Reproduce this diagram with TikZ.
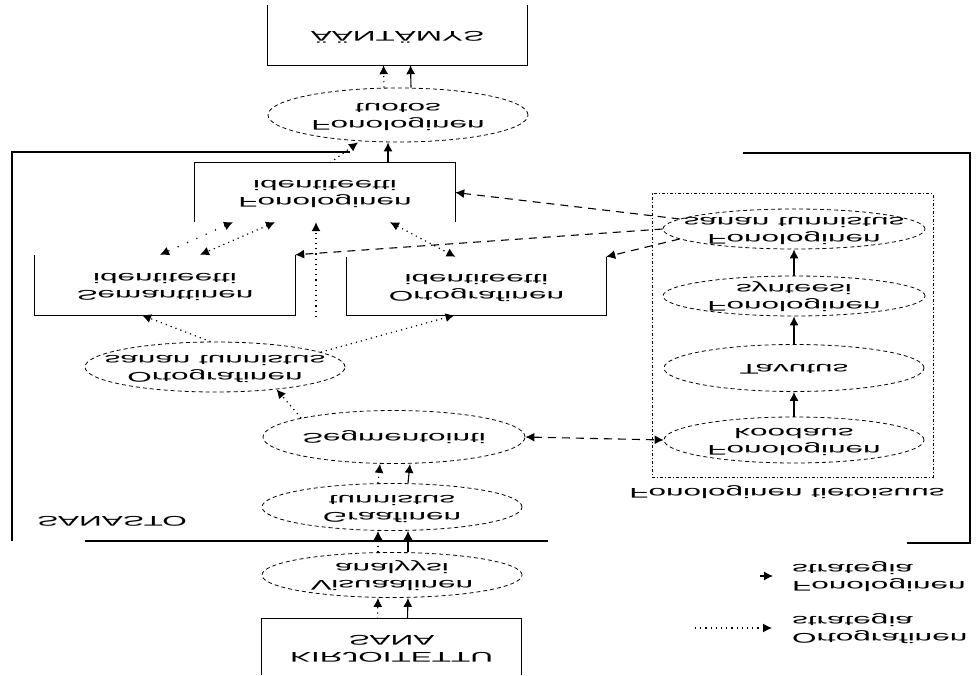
\documentclass[tikz,border=0pt]{standalone}
\usepackage{fontspec}
\setmainfont{Liberation Sans}[FakeStretch=2.25]
\usepackage{graphicx}
\usetikzlibrary{arrows.meta,shapes.geometric}

\newsavebox\txtbox
\newcommand{\flipt}[1]{\sbox\txtbox{\scalebox{1}[-1]{\begin{tabular}{@{}c@{}}#1\end{tabular}}}%
	\makebox[0pt]{\raisebox{\dimexpr(\dp\txtbox-\ht\txtbox)/2\relax}[0pt][0pt]{\usebox\txtbox}}}
\newcommand{\flipl}[1]{\scalebox{1}[-1]{\begin{tabular}{@{}l@{}}#1\end{tabular}}}

\begin{document}
\begin{tikzpicture}
		[x=1pt, y=-1pt,
		 every node/.style={font=\fontsize{14}{17}\selectfont, inner sep=0pt},
		 lexbox/.style={rectangle, minimum width=260pt, minimum height=59pt},
		 el/.style={ellipse, draw, line width=0.8pt, dash pattern=on 4pt off 3pt, minimum width=260pt},
		 lexframe/.style={line width=1.3pt},
		 fon/.style={line width=1.1pt, -{Latex[length=9pt,width=9pt]}},
		 ort/.style={line width=1.2pt, dash pattern=on 1.2pt off 4pt, -{Latex[length=9pt,width=9pt]}},
		 ortt/.style={ort, {Latex[length=9pt,width=9pt]}-{Latex[length=9pt,width=9pt]}},
		 syn/.style={line width=1.1pt, dash pattern=on 8pt off 6pt, -{Latex[length=9pt,width=9pt]}}]

		\useasboundingbox (0,0) rectangle (980,676);

		% lexicon frame
		\draw[lexframe] (350,152) -- (12,152) -- (12,541);
		\draw[lexframe] (85,541) -- (548,541);
		\draw[lexframe] (743,153) -- (970,153) -- (970,543) -- (907,543);
		\node (sanasto) at (112,520) {\flipt{SANASTO}};

		% visual route
		\node[lexbox, minimum height=56pt] (kir) at (391.5,647) {\flipt{KIRJOITETTU\\SANA}};
		\draw[lexframe] (kir.south west) -- (kir.north west) -- (kir.north east) -- (kir.south east);
		\node[el, minimum height=45pt] (vis) at (392,575) {\flipt{Visuaalinen\\analyysi}};
		\node[el, minimum height=47pt] (graaf) at (392,507) {\flipt{Graafinen\\tunnistus}};
		\node[el, minimum height=53pt, minimum width=262pt] (seg) at (394,437) {\flipt{Segmentointi}};
		\node[el, minimum height=50pt] (osan) at (215,367) {\flipt{Ortografinen\\sanan tunnistus}};

		\node[lexbox, minimum height=60pt] (sid) at (165,285) {\flipt{Semanttinen\\identiteetti}};
		\draw[lexframe] (sid.north west) -- (sid.south west) -- (sid.south east) -- (sid.north east);
		\node[lexbox, minimum width=259pt, minimum height=58pt] (oid) at (476.5,286) {\flipt{Ortografinen\\identiteetti}};
		\draw[lexframe] (oid.north west) -- (oid.south west) -- (oid.south east) -- (oid.north east);
		\node[lexbox] (fid) at (325,192.5) {\flipt{Fonologinen\\identiteetti}};
		\draw[lexframe] (fid.south west) -- (fid.north west) -- (fid.north east) -- (fid.south east);

		\node[el, minimum height=54pt] (ftuo) at (398,115) {\flipt{Fonologinen\\tuotos}};
		\node[lexbox, minimum height=60pt] (aant) at (397.5,35) {\flipt{ÄÄNTÄMYS}};
		\draw[lexframe] (aant.north west) -- (aant.south west) -- (aant.south east) -- (aant.north east);

		% phonological awareness
		\node[draw, line width=1pt, dash dot, minimum width=281pt, minimum height=283pt] (ftbox) at (792.5,335.5) {};
		\node (ftlab) at (787,492) {\flipt{Fonologinen tietoisuus}};

		\node[el, minimum height=40pt, minimum width=262pt] (fsan) at (794,229) {\flipt{Fonologinen\\sanan tunnistus}}
		;
		\node[el, minimum height=40pt, minimum width=262pt] (fsyn) at (794,296) {\flipt{Fonologinen\\synteesi}}
			edge [fon]	(fsan)
		;
		\node[el, minimum height=47pt] (tav) at (794,368) {\flipt{Tavutus}}
			edge [fon]	(fsyn)
		;
		\node[el, minimum height=46pt] (fkood) at (794,440) {\flipt{Fonologinen\\koodaus}}
			edge [fon]	(tav)
		;

		% double routes
		\draw[ort] ([xshift=-14pt]kir.north) -- ([xshift=-14pt]vis.south);
		\draw[fon] ([xshift=16pt]kir.north) -- ([xshift=16pt]vis.south);
		\draw[ort] ([xshift=-14pt]vis.north) -- ([xshift=-14pt]graaf.south);
		\draw[fon] ([xshift=16pt]vis.north) -- ([xshift=16pt]graaf.south);
		\draw[ort] ([xshift=-14pt]graaf.north) -- ([xshift=-14pt]seg.south);
		\draw[fon] ([xshift=16pt]graaf.north) -- ([xshift=16pt]seg.south);
		\draw[ort] ([xshift=-14pt]ftuo.north) -- ([xshift=-14pt]aant.south);
		\draw[fon] ([xshift=13pt]ftuo.north) -- ([xshift=13pt]aant.south);

		% orthographic strategy
		\draw[ort] (seg.north west) -- (osan.-20);
		\draw[ort] (osan.100) -- ([xshift=-23pt]sid.south);
		\draw[ort] (osan.8) -- ([xshift=-22pt]oid.south);
		\coordinate (vmid) at (316,317);
		\draw[ort] (vmid) -- (vmid |- fid.south);
		\draw[ortt, dash pattern=on 1.2pt off 9pt] ([xshift=-92pt]fid.south) -- ([xshift=-5pt]sid.north);
		\draw[ortt] ([xshift=-50pt]fid.south) -- ([xshift=35pt]sid.north);
		\draw[ortt] ([xshift=65pt]fid.south) -- ([xshift=-21pt]oid.north);
		\draw[ort] ([xshift=5pt]fid.north) -- ([xshift=-40pt]ftuo.south);
		\draw[fon] ([xshift=63pt]fid.north) -- ([xshift=-10pt]ftuo.south);

		% phonological strategy
		\draw[syn] (fsan.175) -- (fid.east);
		\draw[syn] (fsan.west) -- (sid.north east);
		\draw[syn] (fsan.185) -- (oid.north east);
		\draw[syn, {Latex[length=9pt,width=9pt]}-{Latex[length=9pt,width=9pt]}] (seg.east) -- (fkood.west);

		% legend
		\node[anchor=west] (legf) at (792,576) {\flipl{Fonologinen\\strategia}};
		\node[anchor=west] (lego) at (792,628) {\flipl{Ortografinen\\strategia}};
		\draw[fon] ([xshift=-32pt]legf.west) -- ([xshift=-19pt]legf.west);
		\draw[ort] ([xshift=-97pt]lego.west) -- ([xshift=-20pt]lego.west);

	\end{tikzpicture}
\end{document}
